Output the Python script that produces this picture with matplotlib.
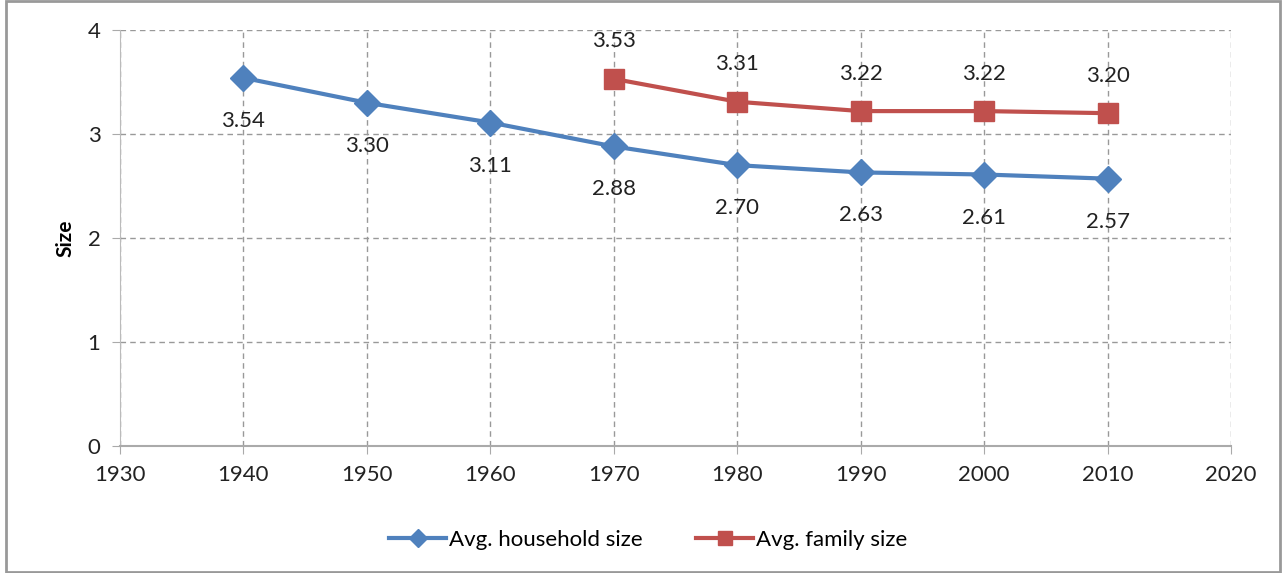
import matplotlib.pyplot as plt
from matplotlib.patches import Rectangle

plt.rcParams['font.family'] = ['Lato', 'DejaVu Sans']

years_household = [1940, 1950, 1960, 1970, 1980, 1990, 2000, 2010]
household_size = [3.54, 3.30, 3.11, 2.88, 2.70, 2.63, 2.61, 2.57]
years_family = [1970, 1980, 1990, 2000, 2010]
family_size = [3.53, 3.31, 3.22, 3.22, 3.20]

blue = '#4F81BD'
red = '#C0504D'

fig = plt.figure(figsize=(12.86, 5.73), dpi=100)
ax = fig.add_axes([0.0933, 0.222, 0.864, 0.7256])

ax.plot(years_household, household_size, color=blue, lw=3, marker='D',
        markersize=13, label='Avg. household size')
ax.plot(years_family, family_size, color=red, lw=3, marker='s',
        markersize=14, label='Avg. family size')

for x, y in zip(years_household, household_size):
    ax.annotate(f'{y:.2f}', (x, y), xytext=(0, -31), textcoords='offset points',
                ha='center', va='center', fontsize=16, color='#222222')
for x, y in zip(years_family, family_size):
    ax.annotate(f'{y:.2f}', (x, y), xytext=(0, 27), textcoords='offset points',
                ha='center', va='center', fontsize=16, color='#222222')

ax.set_xlim(1930, 2020)
ax.set_ylim(0, 4)
ax.set_xticks(range(1930, 2021, 10))
ax.set_yticks(range(0, 5))
ax.grid(True, color='#999999', linestyle=(0, (4, 3)), lw=1)
ax.set_axisbelow(True)

for side in ['top', 'right']:
    ax.spines[side].set_visible(False)
ax.spines['left'].set_color('#bbbbbb')
ax.spines['bottom'].set_color('#aaaaaa')
ax.spines['bottom'].set_linewidth(1.5)
ax.tick_params(axis='both', labelsize=16, colors='#222222', length=6,
               color='#aaaaaa', pad=8)
ax.set_ylabel('Size', fontsize=15, fontweight='bold', labelpad=9)

ax.legend(loc='upper center', bbox_to_anchor=(0.475, -0.155), ncol=2,
          frameon=False, fontsize=16, handlelength=2.6, columnspacing=2.4,
          handletextpad=0.1, markerscale=0.7)

fig.patches.append(Rectangle((0.005, 0.002), 0.99, 0.996, transform=fig.transFigure,
                             fill=False, edgecolor='#999999', lw=2))

fig.savefig('out.png', dpi=100)
